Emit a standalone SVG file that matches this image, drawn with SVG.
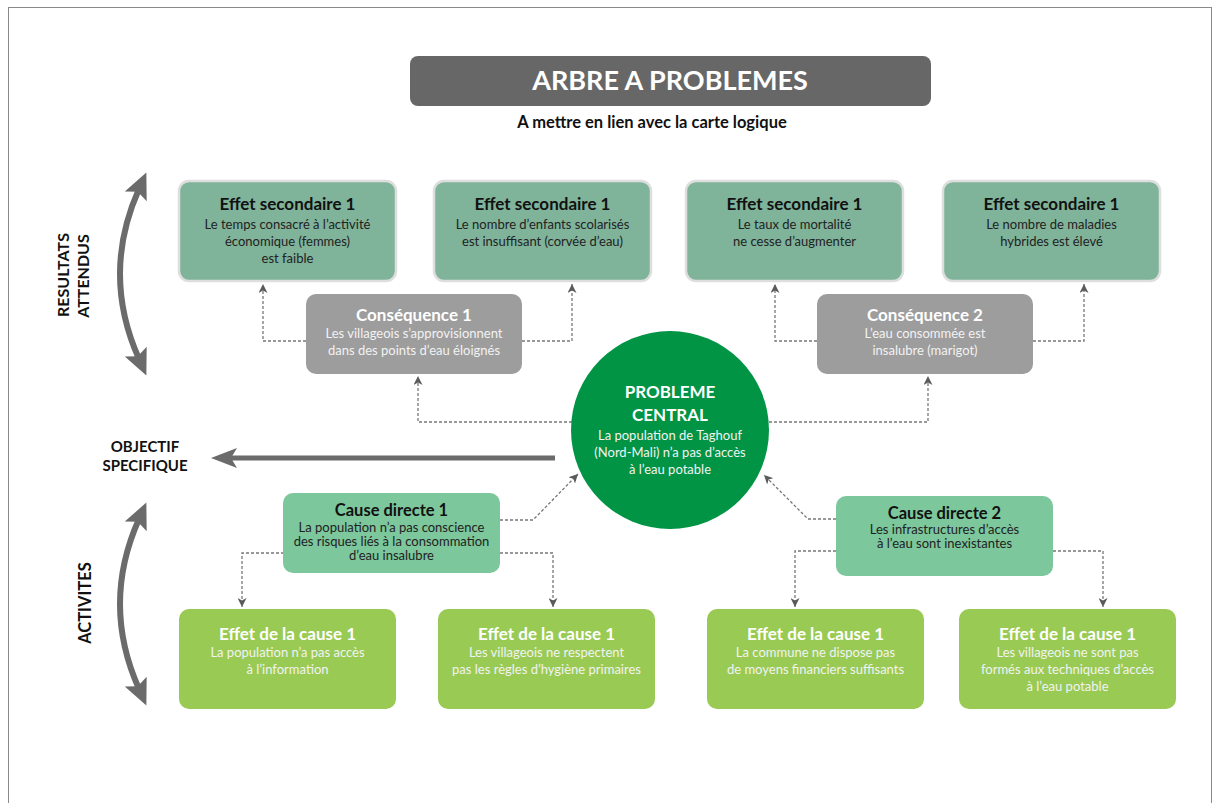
<svg xmlns="http://www.w3.org/2000/svg" width="1218" height="803" viewBox="0 0 1218 803">
  <defs>
    <style>
      text { font-family: Lato, "Open Sans", "Liberation Sans", sans-serif; text-anchor: middle; }
      .sec { fill: #7fb39a; stroke: #dedede; stroke-width: 2.5; }
      .cons { fill: #9d9d9d; }
      .cause { fill: #7cc79c; }
      .act { fill: #99cb54; }
      .h-dark { font-size: 17px; font-weight: 700; fill: #111; }
      .h-light { font-size: 17px; font-weight: 700; fill: #fff; }
      .b-dark { font-size: 13px; fill: #222; }
      .b-light { font-size: 13px; fill: #f2f2f2; }
      .side { font-size: 16px; font-weight: 700; fill: #111; }
      .link { fill: none; stroke: #777; stroke-width: 1.3; stroke-dasharray: 3 2; marker-end: url(#tip); }
      .bend { fill: none; stroke: #6b6b6b; stroke-width: 6; marker-start: url(#head); marker-end: url(#head); }
    </style>
    <marker id="tip" markerUnits="userSpaceOnUse" markerWidth="10" markerHeight="9" refX="9" refY="4.5" orient="auto">
      <path d="M0,0 L9,4.5 L0,9 L2.5,4.5 z" fill="#5a5a5a"/>
    </marker>
    <marker id="head" markerUnits="userSpaceOnUse" markerWidth="28" markerHeight="24" refX="8" refY="12" orient="auto-start-reverse" overflow="visible">
      <path d="M0,0 L26,12 L0,24 L5,12 z" fill="#6b6b6b"/>
    </marker>
  </defs>

  <rect x="8.5" y="7.5" width="1203" height="810" fill="#fff" stroke="#8a8a8a" stroke-width="1"/>

  <!-- heading -->
  <g id="title">
    <rect x="410" y="56" width="521" height="50" rx="8" fill="#676767"/>
    <text x="670" y="90" style="font-size:27px;font-weight:700;fill:#fff">ARBRE A PROBLEMES</text>
    <text x="652" y="128" style="font-size:16.5px;font-weight:700;fill:#111">A mettre en lien avec la carte logique</text>
  </g>

  <!-- side labels and thick arrows -->
  <g id="side-results">
    <path class="bend" d="M139,189 Q101,274 139,359"/>
    <text class="side" transform="translate(69,275) rotate(-90)">RESULTATS</text>
    <text class="side" transform="translate(89,276) rotate(-90)">ATTENDUS</text>
  </g>
  <g id="side-activities">
    <path class="bend" d="M139,519 Q101,604 139,689"/>
    <text class="side" style="font-size:16.5px" transform="translate(91,603) rotate(-90)">ACTIVITES</text>
  </g>
  <g id="objective">
    <line x1="555" y1="458" x2="230" y2="458" stroke="#6b6b6b" stroke-width="5"/>
    <path d="M211,458 L237,448 L231,458 L237,468 z" fill="#6b6b6b"/>
    <text x="145" y="452" style="font-size:15px;font-weight:700;fill:#111">OBJECTIF</text>
    <text x="145" y="471" style="font-size:15px;font-weight:700;fill:#111">SPECIFIQUE</text>
  </g>

  <!-- dotted connectors -->
  <g id="connectors">
    <path class="link" d="M306,341 H263 V284"/>
    <path class="link" d="M522,341 H572 V284"/>
    <path class="link" d="M817,341 H775 V284"/>
    <path class="link" d="M1033,341 H1084 V284"/>
    <path class="link" d="M572,422 H418 V376"/>
    <path class="link" d="M769,422 H928 V376"/>
    <path class="link" d="M500,520 H533 L578,474"/>
    <path class="link" d="M836,519 H808 L764,475"/>
    <path class="link" d="M284,553 H242 V607"/>
    <path class="link" d="M500,553 H553 V607"/>
    <path class="link" d="M836,551 H795 V607"/>
    <path class="link" d="M1053,551 H1103 V607"/>
  </g>

  <!-- secondary effects -->
  <g id="effet-sec-1">
    <rect class="sec" x="179" y="181" width="217" height="100" rx="10"/>
    <text class="h-dark" x="287.5" y="210">Effet secondaire 1</text>
    <text class="b-dark" x="287.5" y="229">Le temps consacré à l’activité</text>
    <text class="b-dark" x="287.5" y="246">économique (femmes)</text>
    <text class="b-dark" x="287.5" y="263">est faible</text>
  </g>
  <g id="effet-sec-2">
    <rect class="sec" x="434" y="181" width="217" height="100" rx="10"/>
    <text class="h-dark" x="542.5" y="210">Effet secondaire 1</text>
    <text class="b-dark" x="542.5" y="229">Le nombre d’enfants scolarisés</text>
    <text class="b-dark" x="542.5" y="246">est insuffisant (corvée d’eau)</text>
  </g>
  <g id="effet-sec-3">
    <rect class="sec" x="686" y="181" width="217" height="100" rx="10"/>
    <text class="h-dark" x="794.5" y="210">Effet secondaire 1</text>
    <text class="b-dark" x="794.5" y="229">Le taux de mortalité</text>
    <text class="b-dark" x="794.5" y="246">ne cesse d’augmenter</text>
  </g>
  <g id="effet-sec-4">
    <rect class="sec" x="943" y="181" width="217" height="100" rx="10"/>
    <text class="h-dark" x="1051.5" y="210">Effet secondaire 1</text>
    <text class="b-dark" x="1051.5" y="229">Le nombre de maladies</text>
    <text class="b-dark" x="1051.5" y="246">hybrides est élevé</text>
  </g>

  <!-- consequences -->
  <g id="consequence-1">
    <rect class="cons" x="306" y="294" width="216" height="80" rx="10"/>
    <text class="h-light" x="414" y="321">Conséquence 1</text>
    <text class="b-light" x="414" y="338">Les villageois s’approvisionnent</text>
    <text class="b-light" x="414" y="355">dans des points d’eau éloignés</text>
  </g>
  <g id="consequence-2">
    <rect class="cons" x="817" y="294" width="216" height="80" rx="10"/>
    <text class="h-light" x="925" y="321">Conséquence 2</text>
    <text class="b-light" x="925" y="338">L’eau consommée est</text>
    <text class="b-light" x="925" y="355">insalubre (marigot)</text>
  </g>

  <!-- central problem -->
  <g id="probleme-central">
    <circle cx="670" cy="430" r="99" fill="#009444"/>
    <text class="h-light" x="670" y="398">PROBLEME</text>
    <text class="h-light" x="670" y="421">CENTRAL</text>
    <text class="b-light" x="670" y="440">La population de Taghouf</text>
    <text class="b-light" x="670" y="457">(Nord-Mali) n’a pas d’accès</text>
    <text class="b-light" x="670" y="474">à l’eau potable</text>
  </g>

  <!-- direct causes -->
  <g id="cause-1">
    <rect class="cause" x="283" y="493" width="217" height="80" rx="10"/>
    <text class="h-dark" style="font-size:16.5px" x="391.5" y="515.5">Cause directe 1</text>
    <text class="b-dark" x="391.5" y="532">La population n’a pas conscience</text>
    <text class="b-dark" x="391.5" y="546">des risques liés à la consommation</text>
    <text class="b-dark" x="391.5" y="560">d’eau insalubre</text>
  </g>
  <g id="cause-2">
    <rect class="cause" x="836" y="496" width="217" height="80" rx="10"/>
    <text class="h-dark" style="font-size:16.5px" x="944.5" y="518.5">Cause directe 2</text>
    <text class="b-dark" x="944.5" y="534">Les infrastructures d’accès</text>
    <text class="b-dark" x="944.5" y="548">à l’eau sont inexistantes</text>
  </g>

  <!-- effects of causes -->
  <g id="effet-cause-1">
    <rect class="act" x="179" y="609" width="217" height="100" rx="10"/>
    <text class="h-light" x="287.5" y="640">Effet de la cause 1</text>
    <text class="b-light" x="287.5" y="657">La population n’a pas accès</text>
    <text class="b-light" x="287.5" y="674">à l’information</text>
  </g>
  <g id="effet-cause-2">
    <rect class="act" x="438" y="609" width="217" height="100" rx="10"/>
    <text class="h-light" x="546.5" y="640">Effet de la cause 1</text>
    <text class="b-light" x="546.5" y="657">Les villageois ne respectent</text>
    <text class="b-light" x="546.5" y="674">pas les règles d’hygiène primaires</text>
  </g>
  <g id="effet-cause-3">
    <rect class="act" x="707" y="609" width="217" height="100" rx="10"/>
    <text class="h-light" x="815.5" y="640">Effet de la cause 1</text>
    <text class="b-light" x="815.5" y="657">La commune ne dispose pas</text>
    <text class="b-light" x="815.5" y="674">de moyens financiers suffisants</text>
  </g>
  <g id="effet-cause-4">
    <rect class="act" x="959" y="609" width="217" height="100" rx="10"/>
    <text class="h-light" x="1067.5" y="640">Effet de la cause 1</text>
    <text class="b-light" x="1067.5" y="657">Les villageois ne sont pas</text>
    <text class="b-light" x="1067.5" y="674">formés aux techniques d’accès</text>
    <text class="b-light" x="1067.5" y="691">à l’eau potable</text>
  </g>
</svg>
